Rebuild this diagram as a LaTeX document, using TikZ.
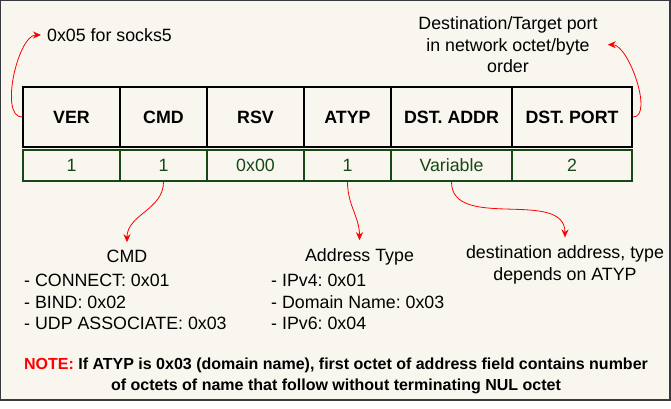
\documentclass[tikz,border=0pt]{standalone}
\usepackage{fontspec}
\setmainfont{Liberation Sans}
\usetikzlibrary{arrows.meta}
\frenchspacing

\definecolor{paper}{RGB}{248,246,238}
\definecolor{frame}{RGB}{54,57,61}
\definecolor{valgreen}{RGB}{22,72,22}

\begin{document}
\begin{tikzpicture}[x=1pt,y=-1pt]
\tikzstyle{every node}=[font=\fontsize{17.8}{21.5}\selectfont]
\tikzstyle{hdr}=[draw=black,line width=2pt,minimum height=60pt,inner sep=0pt,font=\fontsize{17.8}{21}\selectfont\bfseries]
\tikzstyle{val}=[draw=valgreen,text=valgreen,line width=2pt,minimum height=31pt,inner sep=0pt]
\tikzstyle{lbl}=[align=center]
\tikzstyle{arr}=[red,line width=0.8pt,-{Stealth[length=8pt,width=7pt]}]

\useasboundingbox (0,0) rectangle (671,409);
\fill[white] (0,0) rectangle (671,409);
\draw[frame,fill=paper,line width=2pt] (0,0) rectangle (670,400);

% header row
\node[hdr,minimum width=97pt] (ver) at (71.5,117) {VER};
\node[hdr,minimum width=87pt] (cmd) at (163.5,117) {CMD};
\node[hdr,minimum width=97pt] (rsv) at (255.5,117) {RSV};
\node[hdr,minimum width=87pt] (atyp) at (347.5,117) {ATYP};
\node[hdr,minimum width=121pt] (addr) at (451.5,117) {DST. ADDR};
\node[hdr,minimum width=120pt] (port) at (572,117) {DST. PORT};

% sizes
\node[val,minimum width=97pt] (verv) at (71.5,165.5) {1};
\node[val,minimum width=87pt] (cmdv) at (163.5,165.5) {1};
\node[val,minimum width=97pt] (rsvv) at (255.5,165.5) {0x00};
\node[val,minimum width=87pt] (atypv) at (347.5,165.5) {1};
\node[val,minimum width=121pt] (addrv) at (451.5,165.5) {Variable};
\node[val,minimum width=120pt] (portv) at (572,165.5) {2};

% notes
\node[anchor=west,inner xsep=6pt] (socks) at (41,35) {0x05 for socks5};
\node[lbl,inner xsep=10pt] (dest) at (508,44.7) {Destination/Target port\\in network octet/byte\\order};
\node[inner ysep=8pt] (cmdt) at (127,256.7) {CMD};
\node[anchor=north west,align=left,inner sep=0pt] (cmdl) at (24,274) {- CONNECT: 0x01\\- BIND: 0x02\\- UDP ASSOCIATE: 0x03};
\node[inner ysep=8pt] (atypt) at (359.5,256.7) {Address Type};
\node[anchor=north west,align=left,inner sep=0pt] (atypl) at (271,274) {- IPv4: 0x01\\- Domain Name: 0x03\\- IPv6: 0x04};
\node[lbl,inner ysep=8pt] (addrt) at (565,264.7) {destination address, type\\depends on ATYP};
\node[lbl,font=\fontsize{16}{20.5}\selectfont\bfseries] (note) at (336,376) {\textcolor{red}{NOTE:} If ATYP is 0x03 (domain name), first octet of address field contains number\\of octets of name that follow without terminating NUL octet};

\draw[arr] (ver.west) to[out=180,in=180,looseness=0.7] (socks.west);
\draw[arr] (port.east) to[out=0,in=0,looseness=0.7] (dest.east);
\draw[arr] (cmdv.south) to[out=-90,in=90] (cmdt.north);
\draw[arr] (atypv.south) to[out=-90,in=90] (atypt.north);
\draw[arr] (addrv.south) to[out=-90,in=90] (addrt.north);
\end{tikzpicture}
\end{document}
